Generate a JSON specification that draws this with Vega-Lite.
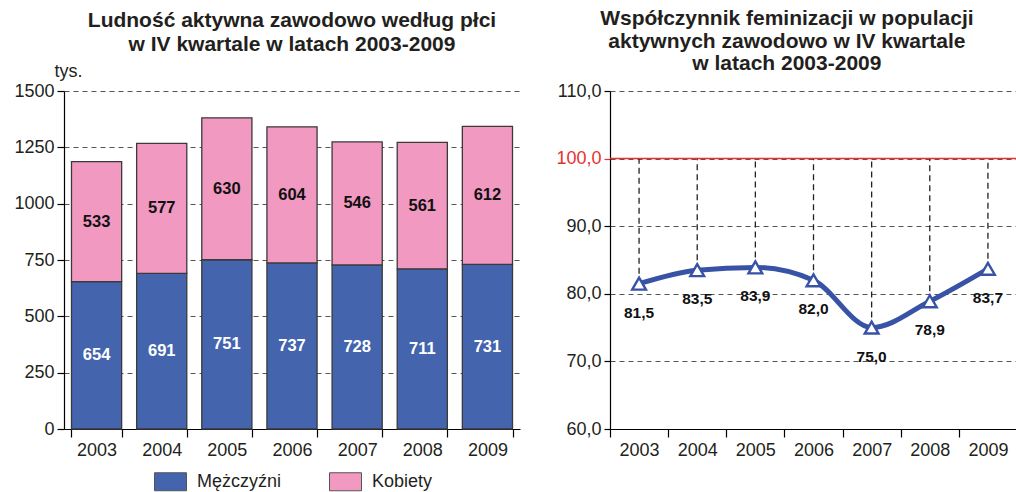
{
  "$schema": "https://vega.github.io/schema/vega-lite/v6.json",
  "background": "white",
  "padding": {"left": 13, "top": 8, "right": 0, "bottom": 0},
  "bounds": "flush",
  "spacing": 90,
  "config": {
    "locale": {"number": {"decimal": ",", "thousands": "\u00a0", "grouping": [3], "currency": ["", " zł"]}},
    "view": {"stroke": null},
    "font": "Liberation Sans",
    "title": {"font": "Liberation Sans", "fontWeight": "bold", "color": "#231f20", "fontSize": 21, "anchor": "middle"},
    "axis": {
      "labelFont": "Liberation Sans", "labelFontSize": 18, "labelColor": "#231f20",
      "domainColor": "#000", "domainWidth": 1.2, "tickColor": "#000", "tickWidth": 1.2,
      "titleFont": "Liberation Sans", "titleColor": "#231f20"
    },
    "legend": {"labelFont": "Liberation Sans", "labelFontSize": 18, "labelColor": "#231f20"}
  },
  "resolve": {"legend": {"color": "independent"}, "scale": {"color": "independent"}},
  "hconcat": [
    {
      "width": 456,
      "height": 338,
      "title": {"text": ["Ludność aktywna zawodowo według płci", "w IV kwartale w latach 2003-2009"], "lineHeight": 24, "offset": 7, "frame": "group"},
      "data": {"values": [
        {"year": "2003", "sex": "Mężczyźni", "k": 1, "value": 654},
        {"year": "2003", "sex": "Kobiety", "k": 2, "value": 533},
        {"year": "2004", "sex": "Mężczyźni", "k": 1, "value": 691},
        {"year": "2004", "sex": "Kobiety", "k": 2, "value": 577},
        {"year": "2005", "sex": "Mężczyźni", "k": 1, "value": 751},
        {"year": "2005", "sex": "Kobiety", "k": 2, "value": 630},
        {"year": "2006", "sex": "Mężczyźni", "k": 1, "value": 737},
        {"year": "2006", "sex": "Kobiety", "k": 2, "value": 604},
        {"year": "2007", "sex": "Mężczyźni", "k": 1, "value": 728},
        {"year": "2007", "sex": "Kobiety", "k": 2, "value": 546},
        {"year": "2008", "sex": "Mężczyźni", "k": 1, "value": 711},
        {"year": "2008", "sex": "Kobiety", "k": 2, "value": 561},
        {"year": "2009", "sex": "Mężczyźni", "k": 1, "value": 731},
        {"year": "2009", "sex": "Kobiety", "k": 2, "value": 612}
      ]},
      "layer": [
        {
          "mark": {"type": "bar", "stroke": "#3a3a3a", "strokeWidth": 1.3},
          "encoding": {
            "x": {"field": "year", "type": "ordinal", "scale": {"paddingInner": 0.23, "paddingOuter": 0.115},
              "axis": {"title": null, "labelAngle": 0, "tickBand": "extent", "tickSize": 8, "labelPadding": 4}},
            "y": {"field": "value", "type": "quantitative", "stack": "zero", "scale": {"domain": [0, 1500], "nice": false},
              "axis": {"values": [0, 250, 500, 750, 1000, 1250, 1500], "format": "d", "title": "tys.", "titleAngle": 0,
                "titleAlign": "left", "titleBaseline": "middle", "titleX": -10, "titleY": -20, "titleFontWeight": "normal",
                "titleFontSize": 18, "grid": true, "gridDash": [5, 4], "gridColor": "#555", "tickSize": 7, "labelPadding": 3}},
            "color": {"field": "sex", "type": "nominal",
              "scale": {"domain": ["Mężczyźni", "Kobiety"], "range": ["#4464ae", "#f299c2"]},
              "legend": {"title": null, "orient": "none", "direction": "horizontal", "legendX": 90, "legendY": 374,
                "symbolType": "M-1,-0.5625H1V0.5625H-1Z", "symbolSize": 1024, "symbolStrokeColor": "#555",
                "symbolStrokeWidth": 1, "symbolOpacity": 1, "labelOffset": 10, "columnPadding": 45}},
            "order": {"field": "k", "type": "quantitative"}
          }
        },
        {
          "transform": [
            {"stack": "value", "groupby": ["year"], "sort": [{"field": "k", "order": "ascending"}], "as": ["y0", "y1"]},
            {"calculate": "(datum.y0 + datum.y1) / 2", "as": "mid"}
          ],
          "mark": {"type": "text", "fontWeight": "bold", "fontSize": 16.5, "baseline": "middle"},
          "encoding": {
            "x": {"field": "year", "type": "ordinal"},
            "y": {"field": "mid", "type": "quantitative"},
            "text": {"field": "value", "type": "quantitative", "format": "d"},
            "color": {"condition": {"test": "datum.sex === 'Kobiety'", "value": "#111"}, "value": "white"}
          }
        }
      ]
    },
    {
      "width": 407,
      "height": 338,
      "title": {"text": ["Współczynnik feminizacji w populacji", "aktywnych zawodowo w IV kwartale", "w latach 2003-2009"], "lineHeight": 22.5, "offset": 8, "frame": "bounds"},
      "data": {"values": [
        {"year": "2003", "value": 81.5},
        {"year": "2004", "value": 83.5},
        {"year": "2005", "value": 83.9},
        {"year": "2006", "value": 82.0},
        {"year": "2007", "value": 75.0},
        {"year": "2008", "value": 78.9},
        {"year": "2009", "value": 83.7}
      ]},
      "layer": [
        {
          "mark": {"type": "rule", "strokeDash": [6, 4], "color": "#222", "strokeWidth": 1.3},
          "encoding": {
            "x": {"field": "year", "type": "ordinal", "scale": {"type": "band", "paddingInner": 0, "paddingOuter": 0},
              "axis": {"title": null, "labelAngle": 0, "tickBand": "extent", "tickSize": 8, "labelPadding": 4}},
            "y": {"field": "value", "type": "quantitative", "scale": {"domain": [60, 110], "nice": false},
              "axis": {"values": [60, 70, 80, 90, 100, 110], "format": ".1f", "title": null, "grid": true, "gridDash": [5, 4],
                "gridColor": "#555", "tickSize": 6, "labelPadding": 3,
                "tickColor": {"expr": "datum.value == 100 ? '#e8312f' : '#000'"},
                "labelColor": {"expr": "datum.value == 100 ? '#e8312f' : '#231f20'"}}},
            "y2": {"datum": 100}
          }
        },
        {
          "data": {"values": [{"ref": 100}]},
          "mark": {"type": "rule", "color": "#e8312f", "strokeWidth": 1.5},
          "encoding": {"y": {"field": "ref", "type": "quantitative"}}
        },
        {
          "mark": {"type": "line", "interpolate": "monotone", "color": "#3853a6", "strokeWidth": 5},
          "encoding": {"x": {"field": "year", "type": "ordinal"}, "y": {"field": "value", "type": "quantitative"}}
        },
        {
          "mark": {"type": "point", "shape": "triangle-up", "filled": true, "fill": "white", "stroke": "#3853a6", "strokeWidth": 2.4, "size": 190, "opacity": 1},
          "encoding": {"x": {"field": "year", "type": "ordinal"}, "y": {"field": "value", "type": "quantitative"}}
        },
        {
          "mark": {"type": "text", "dy": 29, "fontWeight": "bold", "fontSize": 15.5, "color": "#111", "baseline": "middle"},
          "encoding": {"x": {"field": "year", "type": "ordinal"}, "y": {"field": "value", "type": "quantitative"},
            "text": {"field": "value", "type": "quantitative", "format": ".1f"}}
        }
      ]
    }
  ]
}
